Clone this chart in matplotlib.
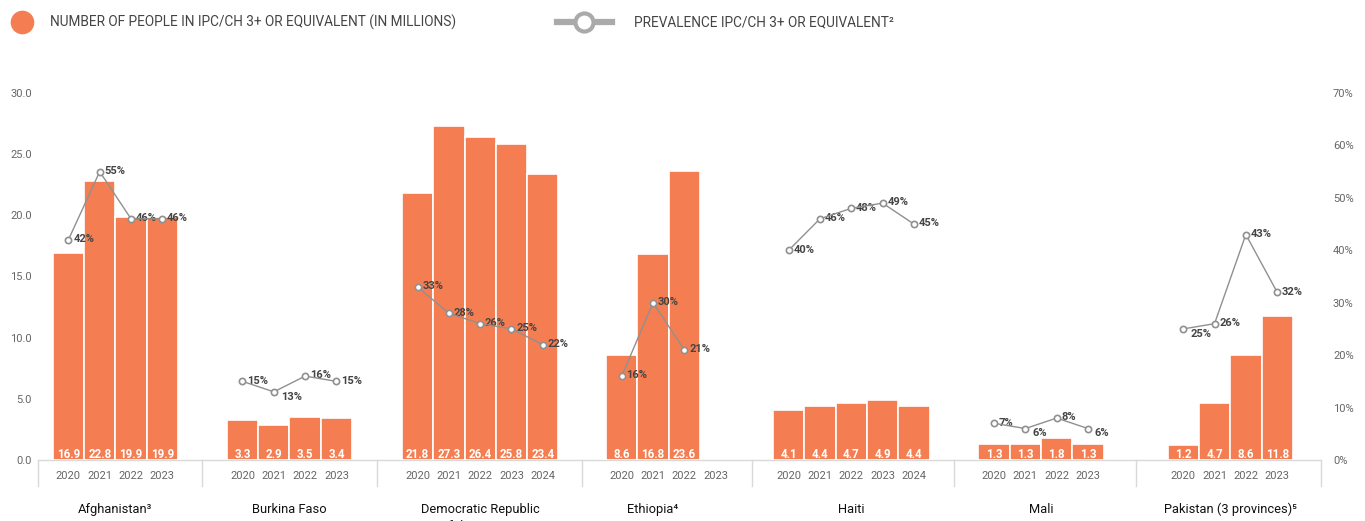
import matplotlib
matplotlib.use("Agg")
import matplotlib.pyplot as plt
from matplotlib.lines import Line2D
from matplotlib.transforms import blended_transform_factory

plt.rcParams["font.family"] = ["Roboto", "DejaVu Sans"]

countries = ["Afghanistan³", "Burkina Faso", "Democratic Republic\nof the Congo²",
             "Ethiopia⁴", "Haiti", "Mali", "Pakistan (3 provinces)⁵"]
years = [
    ["2020", "2021", "2022", "2023"],
    ["2020", "2021", "2022", "2023"],
    ["2020", "2021", "2022", "2023", "2024"],
    ["2020", "2021", "2022", "2023"],
    ["2020", "2021", "2022", "2023", "2024"],
    ["2020", "2021", "2022", "2023"],
    ["2020", "2021", "2022", "2023"],
]
people = [
    [16.9, 22.8, 19.9, 19.9],
    [3.3, 2.9, 3.5, 3.4],
    [21.8, 27.3, 26.4, 25.8, 23.4],
    [8.6, 16.8, 23.6, None],
    [4.1, 4.4, 4.7, 4.9, 4.4],
    [1.3, 1.3, 1.8, 1.3],
    [1.2, 4.7, 8.6, 11.8],
]
prevalence = [
    [42, 55, 46, 46],
    [15, 13, 16, 15],
    [33, 28, 26, 25, 22],
    [16, 30, 21, None],
    [40, 46, 48, 49, 45],
    [7, 6, 8, 6],
    [25, 26, 43, 32],
]
# labels that sit below-right of their marker
labels_below = {(1, 1), (5, 1), (5, 3), (6, 0)}

orange = "#F47E52"
gray_line = "#909090"
tick_color = "#666666"
# space between the last bar of one country and the first of the next (in bar slots)
group_gaps = [2.56, 2.59, 2.52, 2.33, 2.56, 3.04]

fig = plt.figure(figsize=(13.65, 5.21), dpi=100)
ax = fig.add_axes([38 / 1365, 61 / 521, 1283 / 1365, 367 / 521])
ax2 = ax.twinx()

# x positions for each slot
positions = []
x = 0.0
for g, ys in enumerate(years):
    pos = [x + i for i in range(len(ys))]
    positions.append(pos)
    if g < len(group_gaps):
        x = pos[-1] + group_gaps[g]

for g in range(len(countries)):
    xs = positions[g]
    for xi, v in zip(xs, people[g]):
        if v is None:
            continue
        ax.bar(xi, v, width=1.0, color=orange, edgecolor="white", linewidth=1.2, zorder=2)
        ax.text(xi, 0.42, f"{v:.1f}", color="white", fontsize=8.3, fontweight="bold",
                ha="center", va="center", zorder=3)
    px = [xi for xi, p in zip(xs, prevalence[g]) if p is not None]
    py = [p for p in prevalence[g] if p is not None]
    ax2.plot(px, py, color=gray_line, linewidth=1, marker="o", markersize=4.5,
             markerfacecolor="white", markeredgecolor=gray_line, markeredgewidth=1.2, zorder=4)
    for i, (xi, p) in enumerate(zip(xs, prevalence[g])):
        if p is None:
            continue
        if (g, i) in labels_below:
            off = (5, -3.5)
        else:
            off = (3.5, 0.5)
        ax2.annotate(f"{p}%", (xi, p), xytext=off, textcoords="offset points",
                     fontsize=8, fontweight="bold", color="#444444", ha="left", va="center")

left = positions[0][0] - 0.97
right = positions[-1][-1] + 1.4
ax.set_xlim(left, right)
ax.set_ylim(0, 30)
ax2.set_ylim(0, 70)
ax.set_yticks([0, 5, 10, 15, 20, 25, 30])
ax.set_yticklabels([f"{t:.1f}" for t in [0, 5, 10, 15, 20, 25, 30]])
ax2.set_yticks(range(0, 71, 10))
ax2.set_yticklabels([f"{t}%" for t in range(0, 71, 10)])
for a in (ax, ax2):
    for s in a.spines.values():
        s.set_visible(False)
    a.tick_params(axis="y", length=0, labelsize=8, labelcolor=tick_color)
ax.tick_params(axis="y", pad=4.3)
ax2.tick_params(axis="y", pad=8.6)
ax.set_xticks([])

# baseline, group separators, year and country labels below the axis
trans = blended_transform_factory(ax.transData, ax.transAxes)
ax.plot([left, right], [0, 0], transform=trans, color="#D9D9D9", linewidth=1, clip_on=False, zorder=1)
seps = [left]
for g in range(len(countries) - 1):
    seps.append((positions[g][-1] + positions[g + 1][0]) / 2)
seps.append(right)
for s in seps:
    ax.plot([s, s], [0, -26 / 367], transform=trans, color="#D9D9D9", linewidth=1, clip_on=False)
for g in range(len(countries)):
    for xi, yr in zip(positions[g], years[g]):
        ax.text(xi, -16 / 367, yr, transform=trans, ha="center", va="center",
                fontsize=8, color=tick_color)
    filled = [xi for xi, v in zip(positions[g], people[g]) if v is not None]
    mid = (filled[0] + filled[-1]) / 2
    ax.text(mid, -43 / 367, countries[g], transform=trans, ha="center", va="top",
            fontsize=9.3, color="#111111", linespacing=1.4)

# legend
fig.text(50 / 1365, 1 - 22 / 521, "NUMBER OF PEOPLE IN IPC/CH 3+ OR EQUIVALENT (IN MILLIONS)",
         fontsize=9.8, color="#444444", va="center", ha="left")
fig.add_artist(Line2D([22 / 1365], [1 - 22 / 521], marker="o", markersize=16,
                      color=orange, linestyle="none"))
fig.add_artist(Line2D([557 / 1365, 612 / 1365], [1 - 22 / 521, 1 - 22 / 521],
                      color="#AAAAAA", linewidth=4.5))
fig.add_artist(Line2D([584 / 1365], [1 - 22 / 521], marker="o", markersize=13,
                      markerfacecolor="white", markeredgecolor="#AAAAAA",
                      markeredgewidth=3, linestyle="none"))
fig.text(634 / 1365, 1 - 22 / 521, "PREVALENCE IPC/CH 3+ OR EQUIVALENT²",
         fontsize=9.8, color="#444444", va="center", ha="left")

fig.savefig("out.png", dpi=100)
